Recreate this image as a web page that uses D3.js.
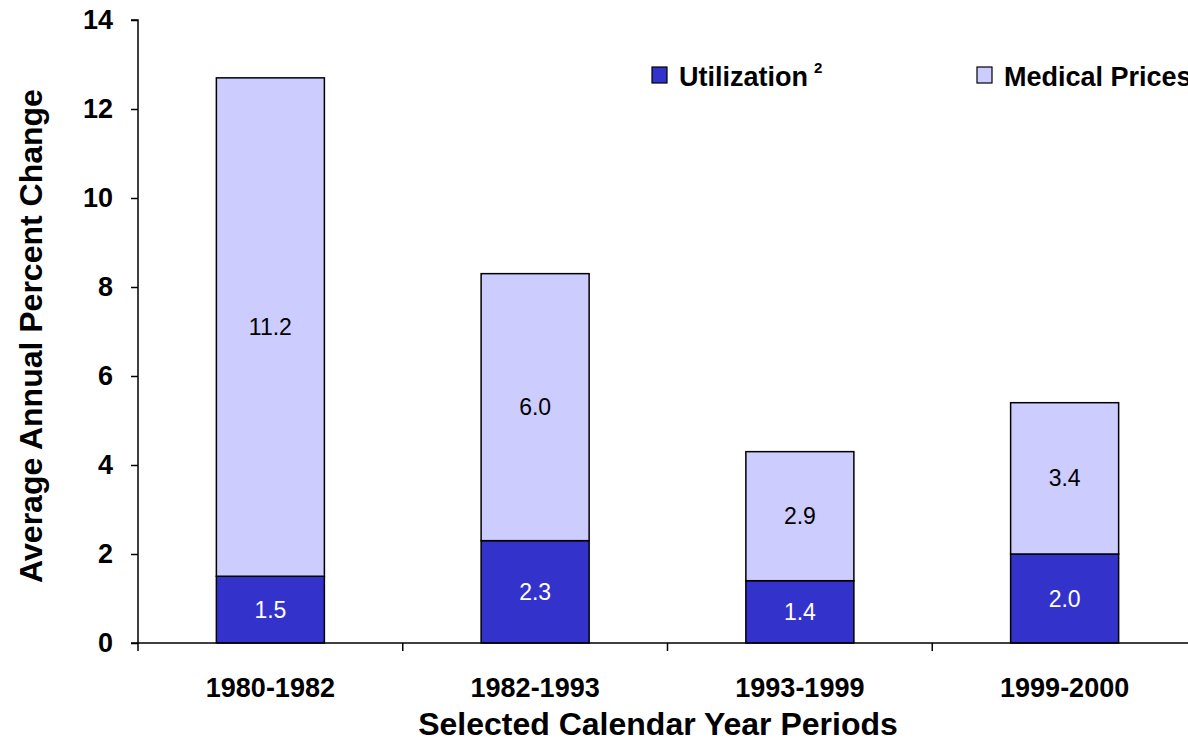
<!DOCTYPE html>
<html>
<head>
<meta charset="utf-8">
<script src="https://cdn.jsdelivr.net/npm/d3@7"></script>
<style>
  body { margin: 0; background: #fff; overflow: hidden; }
  svg { display: block; font-family: "Liberation Sans", Arial, sans-serif; }
</style>
</head>
<body>
<svg id="chart" width="1188" height="741"></svg>
<script>
const periods = ["1980-1982", "1982-1993", "1993-1999", "1999-2000"];
const utilization = [1.5, 2.3, 1.4, 2.0];
const medicalPrices = [11.2, 6.0, 2.9, 3.4];
const yTicks = [0, 2, 4, 6, 8, 10, 12, 14];
const seriesNames = ["Utilization", "Medical Prices"];
const colors = ["#3333cc", "#ccccff"];

const svg = d3.select("#chart");
const plotLeft = 138, plotRight = 1197, plotTop = 20, plotBottom = 643;

const x = d3.scaleBand().domain(periods).range([plotLeft, plotRight]).padding(0);
const y = d3.scaleLinear().domain([0, 14]).range([plotBottom, plotTop]);

const rows = periods.map((p, i) => ({ period: p, Utilization: utilization[i], "Medical Prices": medicalPrices[i] }));
const stacked = d3.stack().keys(seriesNames)(rows);

const barW = x.bandwidth() * 0.408;

// bars
const layers = svg.selectAll("g.layer")
  .data(stacked)
  .enter()
  .append("g")
  .attr("class", "layer")
  .attr("fill", (d, i) => colors[i]);

layers.selectAll("rect")
  .data(d => d)
  .enter()
  .append("rect")
  .attr("x", d => x(d.data.period) + (x.bandwidth() - barW) / 2)
  .attr("y", d => y(d[1]))
  .attr("width", barW)
  .attr("height", d => y(d[0]) - y(d[1]))
  .attr("stroke", "#000")
  .attr("stroke-width", 1.5);

// value labels
layers.each(function (layer) {
  d3.select(this).selectAll("text")
    .data(layer)
    .enter()
    .append("text")
    .attr("x", d => x(d.data.period) + x.bandwidth() / 2)
    .attr("y", d => y((d[0] + d[1]) / 2))
    .attr("dy", "0.35em")
    .attr("text-anchor", "middle")
    .style("font-size", "23px")
    .attr("fill", layer.index === 0 ? "#fff" : "#000")
    .text(d => (d[1] - d[0]).toFixed(1));
});

// y axis
const yAxis = svg.append("g")
  .attr("transform", `translate(${plotLeft},0)`)
  .call(d3.axisLeft(y).tickValues(yTicks).tickSize(7).tickPadding(18).tickFormat(d3.format("d")));
yAxis.select(".domain").attr("stroke-width", 1.5).attr("d", `M-7,${plotTop}H0V${plotBottom}H-7`);
yAxis.selectAll(".tick line").attr("stroke-width", 1.5);
yAxis.selectAll(".tick text")
  .style("font-size", "27px")
  .style("font-weight", "bold")
  .attr("fill", "#000");

// x axis
const xAxis = svg.append("g")
  .attr("transform", `translate(0,${plotBottom})`);
xAxis.append("line")
  .attr("x1", plotLeft).attr("x2", plotRight)
  .attr("stroke", "#000").attr("stroke-width", 1.5);
xAxis.selectAll("line.tick")
  .data(periods)
  .enter()
  .append("line")
  .attr("class", "tick")
  .attr("x1", d => x(d)).attr("x2", d => x(d))
  .attr("y1", 0).attr("y2", 8)
  .attr("stroke", "#000").attr("stroke-width", 1.5);
xAxis.selectAll("text")
  .data(periods)
  .enter()
  .append("text")
  .attr("x", d => x(d) + x.bandwidth() / 2)
  .attr("y", 54)
  .attr("text-anchor", "middle")
  .style("font-size", "27px")
  .style("font-weight", "bold")
  .text(d => d);

// axis titles
svg.append("text")
  .attr("x", 658)
  .attr("y", 735)
  .attr("text-anchor", "middle")
  .style("font-size", "32px")
  .style("font-weight", "bold")
  .text("Selected Calendar Year Periods");

svg.append("text")
  .attr("transform", `translate(42,336) rotate(-90)`)
  .attr("text-anchor", "middle")
  .style("font-size", "32px")
  .style("font-weight", "bold")
  .text("Average Annual Percent Change");

// legend
const legendX = [652, 977];
const legend = svg.selectAll("g.legend")
  .data(seriesNames)
  .enter()
  .append("g")
  .attr("class", "legend")
  .attr("transform", (d, i) => `translate(${legendX[i]},67)`);
legend.append("rect")
  .attr("width", 15).attr("height", 16)
  .attr("fill", (d, i) => colors[i])
  .attr("stroke", "#000").attr("stroke-width", 1.2);
const lt = legend.append("text")
  .attr("x", 27).attr("y", 19)
  .style("font-size", "27px")
  .style("font-weight", "bold")
  .text(d => d);
lt.filter((d, i) => i === 0)
  .append("tspan")
  .attr("dx", 6).attr("dy", -13)
  .style("font-size", "15px")
  .text("2");
</script>
</body>
</html>
